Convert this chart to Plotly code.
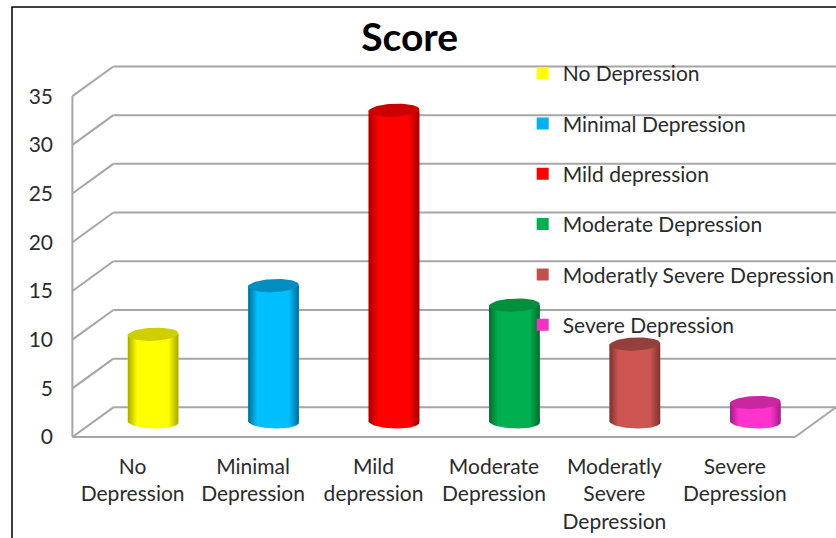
import numpy as np
import plotly.graph_objects as go

# ---- data ----
categories = ["No Depression", "Minimal Depression", "Mild depression",
              "Moderate Depression", "Moderatly Severe Depression", "Severe Depression"]
tick_labels = ["No<br>Depression", "Minimal<br>Depression", "Mild<br>depression",
               "Moderate<br>Depression", "Moderatly<br>Severe<br>Depression", "Severe<br>Depression"]
values = [9, 14, 32, 12, 8, 2]
y_ticks = [0, 5, 10, 15, 20, 25, 30, 35]

# ---- style ----
bright = ["#FFFF00", "#00BFFF", "#FF0000", "#00B050", "#CD5552", "#FF33CC"]
edge = ["#A8A800", "#006E96", "#A00000", "#006A2E", "#7E3230", "#A01E86"]
cap = ["#CFCF00", "#008DC0", "#CC0000", "#00903E", "#953F3C", "#C8279F"]
legend_col = ["#FFFF00", "#00B0F0", "#FF0000", "#00B050", "#C0504D", "#F033C0"]

FONT = "Lato"
TXT = "#2B2B2B"
GRID = "#A6A6A6"
DX_BACK, DY_BACK = 0.34, 3.05
DX_MID, DY_MID = 0.17, 1.55
R_X, R_Y = 0.21, 0.67

fig = go.Figure()

n = len(categories)
for i in range(n):
    cx = i + DX_MID
    yb = DY_MID
    yt = DY_MID + values[i]
    # bar (legend + body base)
    fig.add_trace(go.Bar(
        x=[cx], y=[values[i]], base=[yb], width=2 * R_X,
        marker=dict(color=legend_col[i], line=dict(width=0)),
        name=categories[i], legendgroup=categories[i], hoverinfo="skip"))
    # cylinder body
    th = np.linspace(np.pi, 2 * np.pi, 48)
    bx = list(cx + R_X * np.cos(th)) + [cx + R_X, cx - R_X]
    by = list(yb + R_Y * np.sin(th) - 0.08 * np.cos(th)) + [yt, yt]
    fig.add_trace(go.Scatter(
        x=bx, y=by, mode="lines", fill="toself", line=dict(width=0),
        fillgradient=dict(type="horizontal",
                          colorscale=[[0, edge[i]], [0.18, bright[i]], [0.5, bright[i]],
                                      [0.8, bright[i]], [1, edge[i]]]),
        showlegend=False, hoverinfo="skip", legendgroup=categories[i]))
    # top cap
    th2 = np.linspace(0, 2 * np.pi, 72)
    tx = cx + R_X * np.cos(th2)
    ty = yt + R_Y * np.sin(th2) + 0.10 * np.cos(th2)
    fig.add_trace(go.Scatter(
        x=tx, y=ty, mode="lines", fill="toself", line=dict(width=0),
        fillcolor=cap[i], showlegend=False, hoverinfo="skip",
        legendgroup=categories[i]))

# ---- 3D frame (walls, floor) ----
shapes = []
x_left, x_right = -0.5, n - 0.5
line = dict(color=GRID, width=2)
for v in y_ticks:
    shapes.append(dict(type="line", xref="x", yref="y", x0=x_left, y0=v,
                       x1=x_left + DX_BACK, y1=v + DY_BACK, line=line, layer="below"))
    shapes.append(dict(type="line", xref="x", yref="y", x0=x_left + DX_BACK, y0=v + DY_BACK,
                       x1=x_right + DX_BACK, y1=v + DY_BACK, line=line, layer="below"))
shapes.append(dict(type="line", xref="x", yref="y", x0=x_left, y0=0, x1=x_left,
                   y1=y_ticks[-1], line=line, layer="below"))
shapes.append(dict(type="line", xref="x", yref="y", x0=x_left, y0=0, x1=x_right,
                   y1=0, line=line, layer="below"))
shapes.append(dict(type="line", xref="x", yref="y", x0=x_right, y0=0, x1=x_right + DX_BACK,
                   y1=DY_BACK, line=line, layer="below"))
# chart border
shapes.append(dict(type="rect", xref="paper", yref="paper", x0=-0.0757, y0=-0.6,
                   x1=1.2, y1=1.155, line=dict(color="black", width=1.5), layer="below"))

fig.update_layout(
    width=836, height=538,
    margin=dict(l=70, r=0, t=65, b=99, autoexpand=False),
    paper_bgcolor="white", plot_bgcolor="rgba(0,0,0,0)",
    barmode="overlay",
    font=dict(family=FONT, color=TXT, size=21),
    title=dict(text="<b>Score</b>", x=0.49, xanchor="center", y=0.931, yanchor="middle",
               font=dict(family=FONT, size=39, color="black")),
    xaxis=dict(range=[-0.52, 5.84], tickvals=list(range(n)), ticktext=tick_labels,
               showgrid=False, zeroline=False, showline=False, ticks="",
               ticklabelstandoff=13, tickfont=dict(size=21, color=TXT)),
    yaxis=dict(range=[-0.2, 38.2], tickvals=y_ticks, showgrid=False, zeroline=False,
               showline=False, ticks="", ticklabelstandoff=16,
               tickfont=dict(size=21, color=TXT)),
    legend=dict(x=0.591, y=1.032, xanchor="left", yanchor="top",
                bgcolor="rgba(0,0,0,0)", font=dict(size=21, color=TXT),
                tracegroupgap=20, itemclick=False, maxheight=450),
    shapes=shapes,
    showlegend=True,
)

fig.write_html("out.html")
